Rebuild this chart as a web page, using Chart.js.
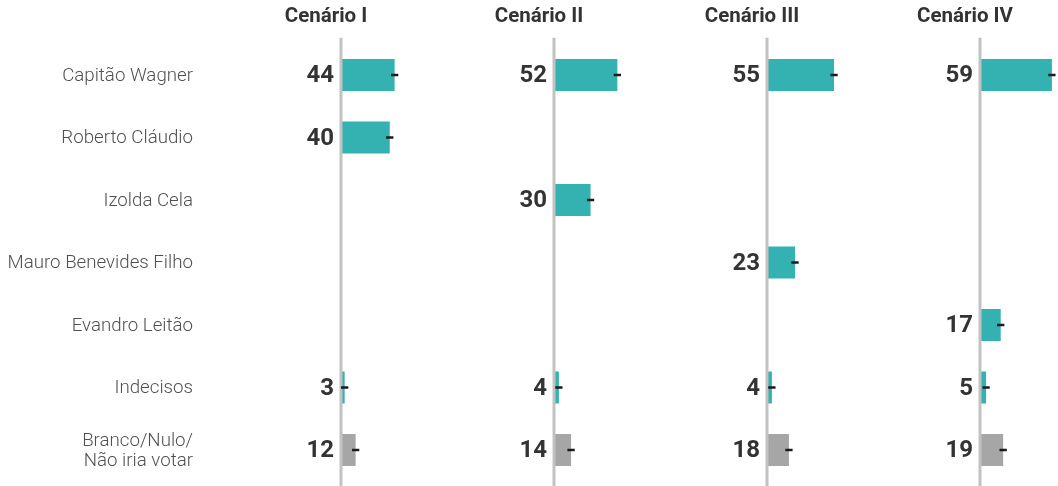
<!DOCTYPE html>
<html>
<head>
<meta charset="utf-8">
<script src="https://cdn.jsdelivr.net/npm/chart.js@4.4.1/dist/chart.umd.min.js"></script>
<style>
  html, body { margin: 0; padding: 0; background: #fff; }
  #wrap { position: relative; width: 1058px; height: 486px; overflow: hidden; }
  #wrap canvas { position: absolute; top: 0; }
</style>
</head>
<body>
<div id="wrap"></div>
<script>
// ---- data ----
const categories = [
  'Capitão Wagner',
  'Roberto Cláudio',
  'Izolda Cela',
  'Mauro Benevides Filho',
  'Evandro Leitão',
  'Indecisos',
  ['Branco/Nulo/', 'Não iria votar']
];
const scenarios = ['Cenário I', 'Cenário II', 'Cenário III', 'Cenário IV'];
const cenarioI   = [44, 40, null, null, null, 3, 12];
const cenarioII  = [52, null, 30, null, null, 4, 14];
const cenarioIII = [55, null, null, 23, null, 4, 18];
const cenarioIV  = [59, null, null, null, 17, 5, 19];
const margemErro = 3;

const series = [cenarioI, cenarioII, cenarioIII, cenarioIV];

// ---- look ----
const TEAL = '#34b1b1';
const GRAY = '#a6a6a6';
const AXIS = '#c2c2c2';
const TEXT = '#333333';
const FONT = 'Roboto';
const axisX = [341, 554, 767, 980];   // where each panel's zero line sits
const plotW = 78;                     // width of each plot area
const xMax = 64;

const barColors = categories.map((c, i) => i === categories.length - 1 ? GRAY : TEAL);

// axis line, error bars, value labels, category labels and panel title
const panelDecor = {
  id: 'panelDecor',
  afterDatasetsDraw(chart, args, opts) {
    const ctx = chart.ctx;
    const area = chart.chartArea;
    const xs = chart.scales.x;
    const ys = chart.scales.y;
    const data = chart.data.datasets[0].data;

    ctx.save();
    // zero line
    ctx.strokeStyle = AXIS;
    ctx.lineWidth = 3;
    ctx.beginPath();
    ctx.moveTo(area.left, area.top - 6);
    ctx.lineTo(area.left, chart.height);
    ctx.stroke();

    // category names, only on the first panel
    if (opts.showNames) {
      ctx.fillStyle = '#505050';
      ctx.font = `300 18.7px ${FONT}`;
      ctx.textAlign = 'right';
      ctx.textBaseline = 'middle';
      chart.data.labels.forEach((lab, i) => {
        const lines = Array.isArray(lab) ? lab : [lab];
        const y = ys.getPixelForValue(i) + 1;
        const lh = 20;
        lines.forEach((t, k) => {
          ctx.fillText(t, area.left - 148, y + (k - (lines.length - 1) / 2) * lh);
        });
      });
    }

    data.forEach((v, i) => {
      if (v === null) return;
      const y = ys.getPixelForValue(i);
      // margin of error
      ctx.strokeStyle = '#1a1a1a';
      ctx.lineWidth = 2.5;
      ctx.beginPath();
      ctx.moveTo(xs.getPixelForValue(Math.max(0, v - margemErro)), y);
      ctx.lineTo(xs.getPixelForValue(v + margemErro), y);
      ctx.stroke();
      // value
      ctx.fillStyle = TEXT;
      ctx.font = `bold 24px ${FONT}`;
      ctx.textAlign = 'right';
      ctx.textBaseline = 'middle';
      ctx.fillText(String(v), area.left - 7, y + 1);
    });

    // title
    ctx.fillStyle = TEXT;
    ctx.font = `bold 20.5px ${FONT}`;
    ctx.textAlign = 'center';
    ctx.textBaseline = 'middle';
    ctx.fillText(opts.title, area.left - 15, 17);
    ctx.restore();
  }
};

const wrap = document.getElementById('wrap');

scenarios.forEach((name, p) => {
  const leftW = p === 0 ? axisX[0] : 110;
  const canvas = document.createElement('canvas');
  canvas.width = leftW + plotW;
  canvas.height = 486;
  canvas.style.left = (axisX[p] - leftW) + 'px';
  wrap.appendChild(canvas);

  new Chart(canvas, {
    type: 'bar',
    data: {
      labels: categories,
      datasets: [{
        data: series[p],
        backgroundColor: barColors,
        borderWidth: 0,
        barPercentage: 0.51,
        categoryPercentage: 1
      }]
    },
    options: {
      indexAxis: 'y',
      responsive: false,
      animation: false,
      layout: { padding: { top: 43.75, bottom: 4.75, left: 0, right: 0 } },
      scales: {
        x: { display: false, min: 0, max: xMax },
        y: {
          display: true,
          grid: { display: false, drawTicks: false },
          border: { display: false },
          ticks: { display: false },
          afterFit(scale) { scale.width = leftW; }
        }
      },
      plugins: {
        legend: { display: false },
        tooltip: { enabled: false },
        panelDecor: { title: name, showNames: p === 0 }
      }
    },
    plugins: [panelDecor]
  });
});
</script>
</body>
</html>
